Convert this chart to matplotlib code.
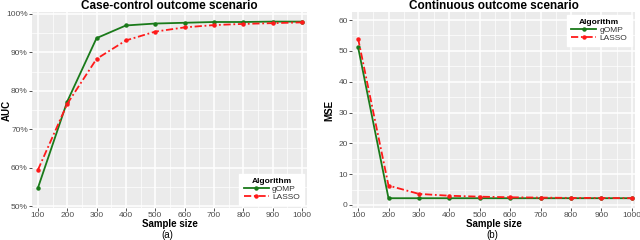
import numpy as np
import matplotlib.pyplot as plt
from matplotlib.ticker import FuncFormatter, MultipleLocator

# Örneklem büyüklükleri
sample_size = [100, 200, 300, 400, 500, 600, 700, 800, 900, 1000]

# (a) Case-control: AUC (%)
auc_gomp = [54.7, 77.2, 93.7, 97.0, 97.5, 97.7, 97.9, 97.9, 98.0, 98.0]
auc_lasso = [59.4, 76.6, 88.3, 93.1, 95.4, 96.5, 97.1, 97.4, 97.6, 97.8]

# (b) Continuous: MSE
mse_gomp = [51.2, 2.2, 2.2, 2.2, 2.2, 2.2, 2.2, 2.2, 2.2, 2.2]
mse_lasso = [54.0, 6.3, 3.6, 3.0, 2.7, 2.5, 2.4, 2.3, 2.3, 2.2]

green = '#1a7a1a'
red = '#ff1a1a'
tick_grey = '#4d4d4d'

plt.rcParams['font.family'] = ['Liberation Sans', 'DejaVu Sans']


def style_panel(ax):
    ax.set_facecolor('#ebebeb')
    for s in ax.spines.values():
        s.set_visible(False)
    ax.grid(True, which='major', color='white', linewidth=1.1)
    ax.grid(True, which='minor', color='white', linewidth=0.5)
    ax.set_axisbelow(True)
    ax.tick_params(which='major', length=2, width=0.6, color='#333333',
                   labelsize=6, labelcolor=tick_grey, pad=1)
    ax.tick_params(which='minor', length=0)
    ax.xaxis.set_major_locator(MultipleLocator(100))
    ax.xaxis.set_minor_locator(MultipleLocator(50))


def draw(ax, y1, y2, loc):
    ax.plot(sample_size, y1, color=green, linewidth=1.3, marker='o', markersize=2.2,
            label='gOMP')
    ax.plot(sample_size, y2, color=red, linewidth=1.3, linestyle=(0, (4, 1.5, 1, 1.5)),
            marker='o', markersize=2.2, label='LASSO')
    leg = ax.legend(title='Algorithm', loc=loc, fontsize=6, title_fontsize=6,
                    frameon=True, fancybox=False, framealpha=1, edgecolor='white',
                    handlelength=3.0, handletextpad=0.4, labelspacing=0.0,
                    borderpad=0.5, borderaxespad=0.4)
    leg.get_title().set_fontweight('bold')
    for t in leg.get_texts():
        t.set_color('#333333')


fig = plt.figure(figsize=(6.4, 2.4), dpi=100)

ax1 = fig.add_axes([0.05, 0.133, 0.43, 0.817])
style_panel(ax1)
draw(ax1, auc_gomp, auc_lasso, 'lower right')
ax1.set_xlim(80, 1018)
ax1.set_ylim(49.5, 100.5)
ax1.yaxis.set_major_locator(MultipleLocator(10))
ax1.yaxis.set_minor_locator(MultipleLocator(5))
ax1.yaxis.set_major_formatter(FuncFormatter(lambda v, p: f'{v:.0f}%'))
ax1.set_title('Case-control outcome scenario', fontsize=8.5, fontweight='bold', pad=2)
ax1.set_ylabel('AUC', fontsize=7, fontweight='bold')
ax1.yaxis.set_label_coords(-0.072, 0.5)
ax1.set_xlabel('Sample size', fontsize=7, fontweight='bold', labelpad=0)

ax2 = fig.add_axes([0.55, 0.133, 0.442, 0.817])
style_panel(ax2)
draw(ax2, mse_gomp, mse_lasso, 'upper right')
ax2.set_xlim(80, 1010)
ax2.set_ylim(-1.0, 62.6)
ax2.yaxis.set_major_locator(MultipleLocator(10))
ax2.yaxis.set_minor_locator(MultipleLocator(5))
ax2.set_title('Continuous outcome scenario', fontsize=8.5, fontweight='bold', pad=2)
ax2.set_ylabel('MSE', fontsize=7, fontweight='bold', labelpad=3)
ax2.set_xlabel('Sample size', fontsize=7, fontweight='bold', labelpad=0)

fig.text(0.262, 0.0, '(a)', fontsize=7, ha='center', va='bottom')
fig.text(0.77, 0.0, '(b)', fontsize=7, ha='center', va='bottom')

plt.savefig('out.png', dpi=100)
